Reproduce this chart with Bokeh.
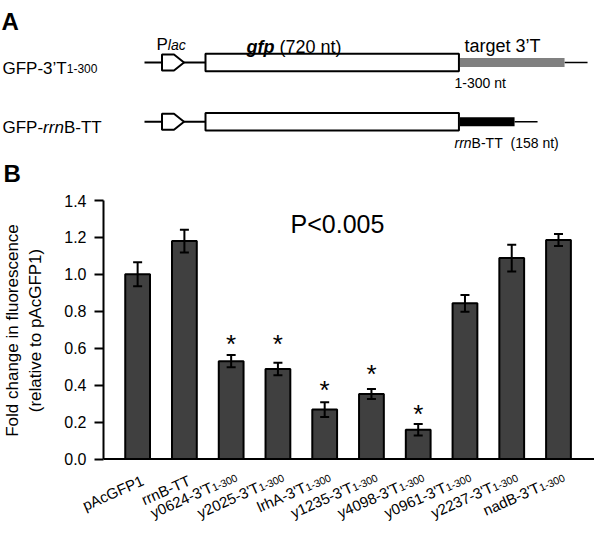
import math
from bokeh.plotting import figure
from bokeh.models import (Range1d, ColumnDataSource, Whisker, TeeHead, Span,
                          FixedTicker, PrintfTickFormatter)
from bokeh.embed import file_html
from bokeh.resources import INLINE
from bokeh.core.properties import value

FONT = "Liberation Sans"

# ---------------- data: panel B ----------------
categories = ["pAcGFP1", "rrnB-TT", "y0624-3'T1-300", "y2025-3'T1-300", "lrhA-3'T1-300",
              "y1235-3'T1-300", "y4098-3'T1-300", "y0961-3'T1-300", "y2237-3'T1-300",
              "nadB-3'T1-300"]
fold_change = [1.00, 1.18, 0.53, 0.487, 0.268, 0.352, 0.158, 0.843, 1.088, 1.186]
sem = [0.065, 0.062, 0.033, 0.034, 0.04, 0.027, 0.031, 0.045, 0.073, 0.033]
star_y = [None, None, 0.704, 0.704, 0.455, 0.542, 0.324, None, None, None]
y_ticks = [0.0, 0.2, 0.4, 0.6, 0.8, 1.0, 1.2, 1.4]
y_title = "Fold change in fluorescence\n(relative to pAcGFP1)"
p_value_text = "P<0.005"

# ---------------- data: panel A ----------------
constructs = ["GFP-3\u2019T1-300", "GFP-rrnB-TT"]
gfp_length_nt = 720
terminator_length_nt = [300, 158]
terminator_colors = ["#808080", "#000000"]

# ---------------- text metrics (Arial / Liberation Sans) ----------------
W = {' ': 278, "'": 191, '\u2019': 222, '(': 333, ')': 333, '-': 333, '.': 278, '<': 584,
     'A': 667, 'B': 667, 'C': 722, 'D': 722, 'E': 667, 'F': 611, 'G': 778, 'H': 722,
     'I': 278, 'P': 667, 'T': 611,
     'a': 556, 'b': 556, 'c': 500, 'd': 556, 'e': 556, 'f': 278, 'g': 556, 'h': 556,
     'i': 222, 'l': 222, 'n': 556, 'o': 556, 'p': 556, 'r': 333, 's': 500, 't': 278,
     'u': 556, 'y': 500}
WB = dict(W, g=611, f=333, p=611, r=389, n=611)


def text_width(s, size, bold=False):
    tab = WB if bold else W
    return sum(tab.get(ch, 556) for ch in s) * size / 1000.0


def draw_runs(fig, x, y, runs):
    """Draw consecutive text runs; leading blanks become horizontal advance."""
    for txt, size, style in runs:
        bold = "bold" in style
        stripped = txt.lstrip(" ")
        x += text_width(txt[:len(txt) - len(stripped)], size, bold)
        fig.text(x=[x], y=[y], text=[stripped], text_font=value(FONT),
                 text_font_size=f"{size}px", text_font_style=style,
                 text_align="left", text_baseline="alphabetic", text_color="black")
        x += text_width(stripped, size, bold)


def bare_figure(w, h, xr, yr):
    return figure(width=w, height=h, x_range=xr, y_range=yr, x_axis_type=None,
                  y_axis_type=None, toolbar_location=None, output_backend="svg",
                  min_border=0, outline_line_color=None)


PAGE_W = 592

# ================= Panel A (schematic), page-pixel coordinates =================
A_H = 190
pa = bare_figure(PAGE_W, A_H, Range1d(8, 8 + PAGE_W), Range1d(8 + A_H, 8))

gfp_x0 = 213.0
px_per_nt = 0.352
row_y = [70.0, 129.3]
gfp_x1 = gfp_x0 + gfp_length_nt * px_per_nt

for r, yy in enumerate(row_y):
    pa.segment(x0=[152], x1=[gfp_x0], y0=[yy], y1=[yy], line_width=2, line_color="black")
    pa.patch([169.5, 181.5, 191.5, 181.5, 169.5], [yy - 8, yy - 8, yy, yy + 8, yy + 8],
             fill_color="white", line_color="black", line_width=2)
    t_end = gfp_x1 + terminator_length_nt[r] * px_per_nt
    pa.segment(x0=[t_end], x1=[t_end + 23], y0=[yy], y1=[yy], line_width=1.5,
               line_color="black")
    pa.quad(left=[gfp_x1 + 1], right=[t_end], top=[yy - 4.5], bottom=[yy + 4.5],
            fill_color=terminator_colors[r], line_color=None)
    pa.quad(left=[gfp_x0], right=[gfp_x1], top=[yy - 8.8], bottom=[yy + 8.8],
            fill_color="white", line_color="black", line_width=2)

draw_runs(pa, 9, 29, [("A", 24, "bold")])
draw_runs(pa, 11, 181, [("B", 24, "bold")])
draw_runs(pa, 10, row_y[0] + 6, [(constructs[0][:-5], 17, "normal"),
                                 (constructs[0][-5:], 12, "normal")])
draw_runs(pa, 10, row_y[1] + 6, [("GFP-", 17, "normal"), ("rrn", 17, "italic"),
                                 ("B-TT", 17, "normal")])
draw_runs(pa, 164, 52, [("P", 17, "normal"), ("lac", 14, "italic")])
draw_runs(pa, 254, 54, [("gfp", 18, "bold italic"), (" (720 nt)", 18, "normal")])
draw_runs(pa, 472, 53, [("target 3\u2019T", 18, "normal")])
draw_runs(pa, 462, 90, [("1-300 nt", 14, "normal")])
draw_runs(pa, 462, 150, [("rrn", 14, "italic"), ("B-TT", 14, "normal"),
                         ("  (158 nt)", 14, "normal")])

# ================= Panel B (bar chart) =================
B_TOP, FRAME_T, FRAME_L, FRAME_R, FRAME_B = 8 + A_H, 208, 106, 597, 468
B_BOTTOM_BORDER = 9
Y0_PAGE, YMAX = 466.5, 1.4
ppu_y = (Y0_PAGE - FRAME_T) / YMAX
y_bot = -(FRAME_B - Y0_PAGE) / ppu_y
x0_range, x1_range = -0.73, 9.77
ppu_x = (FRAME_R - FRAME_L) / (x1_range - x0_range)

pb = figure(frame_width=FRAME_R - FRAME_L, frame_height=FRAME_B - FRAME_T,
            x_range=Range1d(x0_range, x1_range), y_range=Range1d(y_bot, YMAX),
            toolbar_location=None, output_backend="svg", x_axis_location=None,
            min_border_left=FRAME_L - 8, min_border_right=0,
            min_border_top=FRAME_T - B_TOP, min_border_bottom=B_BOTTOM_BORDER,
            outline_line_color=None)
pb.grid.visible = False

idx = list(range(len(categories)))
src = ColumnDataSource(dict(x=idx, top=fold_change,
                            upper=[v + e for v, e in zip(fold_change, sem)],
                            lower=[v - e for v, e in zip(fold_change, sem)]))
pb.vbar(x="x", top="top", width=0.53, source=src, fill_color="#404040",
        line_color="black", line_width=2)
wh = Whisker(source=src, base="x", upper="upper", lower="lower", line_width=2,
             line_color="black", level="annotation",
             upper_head=TeeHead(size=9, line_width=2, line_color="black"),
             lower_head=TeeHead(size=9, line_width=2, line_color="black"))
pb.add_layout(wh)
pb.add_layout(Span(location=0, dimension="width", line_width=2, line_color="black"))

# significance stars (centre of glyph at star_y)
STAR_PX = 26
sx = [i for i, s in zip(idx, star_y) if s is not None]
sy = [s - 0.57 * STAR_PX / ppu_y for s in star_y if s is not None]
pb.text(x=sx, y=sy, text=["*"] * len(sx), text_font=value(FONT),
        text_font_size=f"{STAR_PX}px", text_align="center", text_baseline="alphabetic",
        text_color="black")

pb.text(x=[3.27], y=[1.272], text=[p_value_text], text_font=value(FONT),
        text_font_size="25px", text_align="left", text_baseline="alphabetic",
        text_color="black")

# y axis
pb.yaxis.bounds = (0, YMAX)
pb.yaxis.ticker = FixedTicker(ticks=y_ticks)
pb.yaxis.formatter = PrintfTickFormatter(format="%.1f")
pb.yaxis.major_label_text_font = FONT
pb.yaxis.major_label_text_font_size = "16px"
pb.yaxis.major_label_text_color = "black"
pb.yaxis.major_label_standoff = 8
pb.yaxis.major_tick_out = 9
pb.yaxis.major_tick_in = 0
pb.yaxis.minor_tick_line_color = None
pb.yaxis.axis_line_width = 2
pb.yaxis.major_tick_line_width = 2
pb.yaxis.axis_line_color = "black"
pb.yaxis.major_tick_line_color = "black"
pb.yaxis.axis_label = y_title
pb.yaxis.axis_label_text_font = FONT
pb.yaxis.axis_label_text_font_size = "17px"
pb.yaxis.axis_label_text_font_style = "normal"
pb.yaxis.axis_label_text_color = "black"
pb.yaxis.axis_label_standoff = 16

# ================= category labels strip (below the axis) =================
C_TOP, C_BOT = FRAME_B + B_BOTTOM_BORDER, 529
pc = bare_figure(PAGE_W, C_BOT - C_TOP,
                 Range1d(x0_range - (FRAME_L - 8) / ppu_x,
                         x0_range + (8 + PAGE_W - FRAME_L) / ppu_x),
                 Range1d(C_BOT, C_TOP))

theta = 0.42
ct, st = math.cos(theta), math.sin(theta)
MAIN_PX, SUB_PX = 15, 10.5
ax_off = 10.0                     # baseline end right of the bar centre, px
ay_sub, ay_plain = 16.5, 20.5     # baseline end below the axis, px


def place(i, dx, dy, txt, size):
    pc.text(x=[i + dx / ppu_x], y=[Y0_PAGE + dy], text=[txt], angle=theta,
            text_font=value(FONT), text_font_size=f"{size}px", text_align="right",
            text_baseline="alphabetic", text_color="black")


for i, lab in enumerate(categories):
    if lab.endswith("1-300"):
        main, sub = lab[:-5], lab[-5:]
        ws = text_width(sub, SUB_PX)
        place(i, ax_off + 1.5 * st, ay_sub + 1.5 * ct, sub, SUB_PX)
        place(i, ax_off - ws * ct, ay_sub + ws * st, main, MAIN_PX)
    else:
        place(i, ax_off, ay_plain, lab, MAIN_PX)

open("out.html", "w").write(file_html([pa, pb, pc], INLINE))
